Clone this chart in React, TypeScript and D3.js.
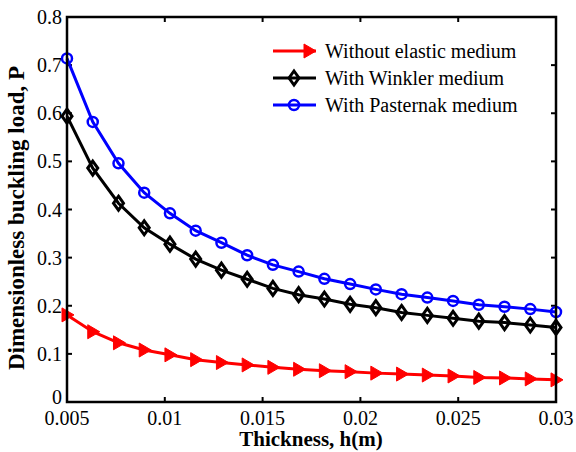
import React from 'react';
import * as d3 from 'd3';

// thickness h (m), 20 points from 0.005 to 0.03
const thickness = [
  0.005, 0.006316, 0.007632, 0.008947, 0.010263, 0.011579, 0.012895, 0.014211, 0.015526, 0.016842,
  0.018158, 0.019474, 0.020789, 0.022105, 0.023421, 0.024737, 0.026053, 0.027368, 0.028684, 0.03,
];
const withoutElastic = [
  0.181, 0.146, 0.123, 0.108, 0.098, 0.088, 0.082, 0.077, 0.072, 0.068,
  0.065, 0.063, 0.060, 0.058, 0.056, 0.054, 0.051, 0.050, 0.048, 0.046,
];
const withWinkler = [
  0.594, 0.486, 0.413, 0.362, 0.328, 0.297, 0.274, 0.255, 0.236, 0.223,
  0.214, 0.203, 0.196, 0.186, 0.180, 0.174, 0.168, 0.165, 0.160, 0.155,
];
const withPasternak = [
  0.714, 0.582, 0.496, 0.435, 0.392, 0.356, 0.331, 0.305, 0.285, 0.271,
  0.256, 0.245, 0.234, 0.224, 0.217, 0.210, 0.202, 0.198, 0.193, 0.187,
];
const seriesNames = ['Without elastic medium', 'With Winkler medium', 'With Pasternak medium'];
const xTicks = [0.005, 0.01, 0.015, 0.02, 0.025, 0.03];
const yTicks = [0, 0.1, 0.2, 0.3, 0.4, 0.5, 0.6, 0.7, 0.8];

const W = 576, H = 452;
const margin = { left: 67, right: 20, top: 17, bottom: 50 };
const font = "'Liberation Serif', 'Times New Roman', serif";

const x = d3.scaleLinear().domain([0.005, 0.03]).range([margin.left, W - margin.right]);
const y = d3.scaleLinear().domain([0, 0.8]).range([H - margin.bottom, margin.top]);

const series = [
  { name: seriesNames[0], values: withoutElastic, color: '#ff0000', marker: 'tri' },
  { name: seriesNames[1], values: withWinkler, color: '#000000', marker: 'diamond' },
  { name: seriesNames[2], values: withPasternak, color: '#0000ff', marker: 'circle' },
];

function Marker({ type, cx, cy, color }: { type: string; cx: number; cy: number; color: string }) {
  if (type === 'circle') {
    return <circle cx={cx} cy={cy} r={5} fill="none" stroke={color} strokeWidth={2.5} />;
  }
  if (type === 'diamond') {
    const p = `${cx},${cy - 7} ${cx + 5},${cy} ${cx},${cy + 7} ${cx - 5},${cy}`;
    return <polygon points={p} fill="none" stroke={color} strokeWidth={3} />;
  }
  const p = `${cx + 7},${cy} ${cx - 5},${cy - 7} ${cx - 5},${cy + 7}`;
  return <polygon points={p} fill={color} stroke={color} strokeWidth={1} />;
}

export default function App() {
  const line = d3.line<number>().x((_, i) => x(thickness[i])).y(d => y(d));
  const x0 = margin.left, x1 = W - margin.right, y0 = H - margin.bottom, y1 = margin.top;

  return (
    <svg width={W} height={H} style={{ position: 'absolute', left: 0, top: 0, background: '#fff' }}>
      {/* ticks */}
      {xTicks.map(t => (
        <g key={'x' + t}>
          <line x1={x(t)} x2={x(t)} y1={y0} y2={y0 - 5} stroke="#000" strokeWidth={2} />
          <line x1={x(t)} x2={x(t)} y1={y1} y2={y1 + 5} stroke="#000" strokeWidth={2} />
          <text x={x(t)} y={y0 + 23} textAnchor="middle" fontFamily={font} fontSize={20}>{String(t)}</text>
        </g>
      ))}
      {yTicks.map(t => (
        <g key={'y' + t}>
          <line x1={x0} x2={x0 + 5} y1={y(t)} y2={y(t)} stroke="#000" strokeWidth={2} />
          <line x1={x1} x2={x1 - 5} y1={y(t)} y2={y(t)} stroke="#000" strokeWidth={2} />
          <text x={x0 - 5} y={y(t) + (t === 0 ? 2 : 7)} textAnchor="end" fontFamily={font} fontSize={20}>{String(t)}</text>
        </g>
      ))}

      {series.map(s => (
        <g key={s.name}>
          <path d={line(s.values) || ''} fill="none" stroke={s.color} strokeWidth={3} />
          {s.values.map((v, i) => (
            <Marker key={i} type={s.marker} cx={x(thickness[i])} cy={y(v)} color={s.color} />
          ))}
        </g>
      ))}

      <rect x={x0} y={y1} width={x1 - x0} height={y0 - y1} fill="none" stroke="#000" strokeWidth={2.5} />

      {/* legend */}
      {series.map((s, i) => {
        const ly = 51 + i * 27;
        return (
          <g key={'lg' + i}>
            <line x1={273} x2={316} y1={ly} y2={ly} stroke={s.color} strokeWidth={3} />
            <Marker type={s.marker} cx={s.marker === 'tri' ? 309 : 294} cy={ly} color={s.color} />
            <text x={325} y={ly + 7} fontFamily={font} fontSize={20}>{s.name}</text>
          </g>
        );
      })}

      <text x={311} y={446} textAnchor="middle" fontFamily={font} fontSize={21} fontWeight="bold">
        Thickness, h(m)
      </text>
      <text
        transform="translate(24,218) rotate(-90)"
        textAnchor="middle"
        fontFamily={font}
        fontSize={23}
        fontWeight="bold"
      >
        Dimensionless buckling load, P
      </text>
    </svg>
  );
}
